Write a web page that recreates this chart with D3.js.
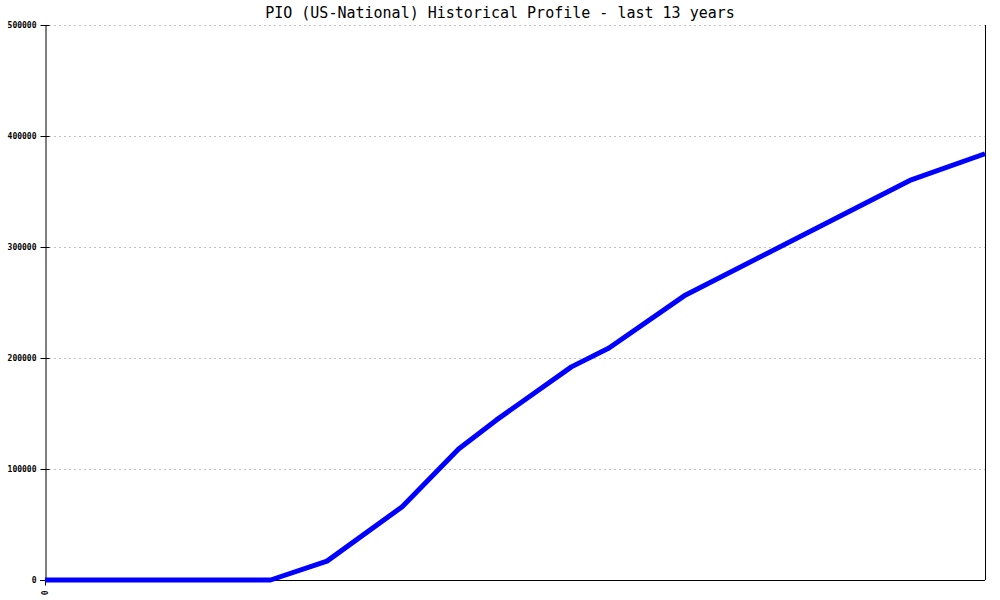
<!DOCTYPE html>
<html>
<head>
<meta charset="utf-8">
<script src="https://cdn.jsdelivr.net/npm/d3@7"></script>
<style>
  body { margin: 0; background: #fff; }
  svg { display: block; }
</style>
</head>
<body>
<div id="chart"></div>
<script>
// chart data (quarter index since start, profile count)
const title = "PIO (US-National) Historical Profile - last 13 years"
const periods = [0, 12, 15, 19, 22, 24, 26, 28, 30, 34, 46, 50]
const counts = [0, 0, 17000, 66000, 118000, 144000, 168000, 192000, 209000, 256000, 360000, 384000]
const yTicks = [0, 100000, 200000, 300000, 400000, 500000]
const xTickLabels = ["0"]

const width = 1000, height = 600
const margin = { top: 25, right: 15, bottom: 20, left: 45 }

const svg = d3.select('#chart')
    .append('svg')
    .attr('width', width)
    .attr('height', height)

const x = d3.scaleLinear()
    .domain([0, 50])
    .range([margin.left, width - margin.right])

const y = d3.scaleLinear()
    .domain([0, 500000])
    .range([height - margin.bottom, margin.top])

// dotted grid lines
svg.append('g')
    .selectAll('line')
    .data(yTicks.filter(t => t > 0))
    .enter()
    .append('line')
    .attr('x1', margin.left + 4)
    .attr('x2', width - margin.right)
    .attr('y1', d => y(d) + 0.5)
    .attr('y2', d => y(d) + 0.5)
    .attr('stroke', '#c0c0c0')
    .attr('stroke-dasharray', '2,3')

// left axis
const yAxis = d3.axisLeft(y)
    .tickValues(yTicks)
    .tickFormat(d3.format('d'))
    .tickSizeInner(5)
    .tickSizeOuter(0)

const gy = svg.append('g')
    .attr('transform', `translate(${margin.left + 0.5},0)`)
    .call(yAxis)
gy.select('.domain').attr('stroke', '#000')
gy.selectAll('.tick line').attr('x2', 4).attr('x1', -5).attr('stroke', '#000')
gy.selectAll('.tick text')
    .attr('x', -9)
    .attr('font-family', 'DejaVu Sans Mono, monospace')
    .attr('font-size', 8)
    .attr('font-weight', 'bold')
    .attr('fill', '#000')

// right border
svg.append('line')
    .attr('x1', width - margin.right + 0.5)
    .attr('x2', width - margin.right + 0.5)
    .attr('y1', margin.top)
    .attr('y2', height - margin.bottom)
    .attr('stroke', '#000')

// bottom axis
const xAxis = d3.axisBottom(x)
    .tickValues([0])
    .tickFormat((d, i) => xTickLabels[i])
    .tickSizeInner(5)
    .tickSizeOuter(0)

const gx = svg.append('g')
    .attr('transform', `translate(0,${height - margin.bottom + 0.5})`)
    .call(xAxis)
gx.select('.domain').attr('d', `M${margin.left - 5},0H${width - margin.right}`).attr('stroke', '#000')
gx.selectAll('.tick line').attr('stroke', '#000')
gx.selectAll('.tick text')
    .attr('font-family', 'DejaVu Sans Mono, monospace')
    .attr('font-size', 8)
    .attr('font-weight', 'bold')
    .attr('fill', '#000')
    .attr('transform', 'rotate(-90)')
    .attr('text-anchor', 'end')
    .attr('dy', '0.32em')
    .attr('x', -10)
    .attr('y', 0)

// the profile line
const data = periods.map((p, i) => ({ p, v: counts[i] }))
const line = d3.line()
    .x(d => x(d.p))
    .y(d => y(d.v))

svg.append('path')
    .datum(data)
    .attr('fill', 'none')
    .attr('stroke', '#0000ff')
    .attr('stroke-width', 5)
    .attr('stroke-linejoin', 'round')
    .attr('d', line)

// title
svg.append('text')
    .attr('x', width / 2)
    .attr('y', 18)
    .attr('text-anchor', 'middle')
    .attr('font-family', 'DejaVu Sans Mono, monospace')
    .attr('font-size', 15)
    .attr('fill', '#000')
    .text(title)
</script>
</body>
</html>
